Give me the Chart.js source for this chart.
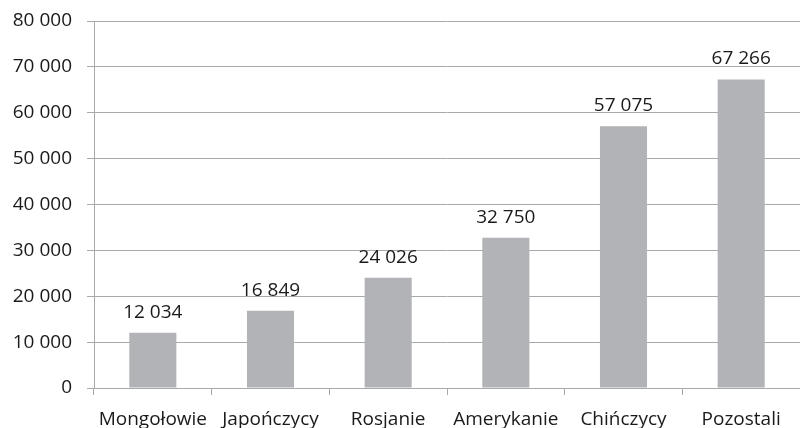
<!DOCTYPE html>
<html>
<head>
<meta charset="utf-8">
<script src="https://cdn.jsdelivr.net/npm/chart.js@4/dist/chart.umd.min.js"></script>
<style>
  html, body { margin: 0; padding: 0; background: #fff; }
  #wrap { width: 800px; height: 428px; }
</style>
</head>
<body>
<div id="wrap"><canvas id="wykres"></canvas></div>
<script>
const kategorie = ['Mongołowie', 'Japończycy', 'Rosjanie', 'Amerykanie', 'Chińczycy', 'Pozostali'];
const wartosci = [12034, 16849, 24026, 32750, 57075, 67266];
const osY = { min: 0, max: 80000, krok: 10000 };

const kolorTekstu = '#1a1a1a';
const kolorSiatki = '#a7a9ac';
const kolorSlupka = '#b1b3b6';
const czcionka = { family: '"Open Sans", sans-serif', size: 19 };

function formatuj(v) {
    return String(v).replace(/\B(?=(\d{3})+(?!\d))/g, ' ');
}

// etykiety z wartościami nad słupkami
const etykietySlupkow = {
    id: 'etykietySlupkow',
    afterDatasetsDraw(chart) {
        const ctx = chart.ctx;
        const meta = chart.getDatasetMeta(0);
        ctx.save();
        ctx.font = `${czcionka.size}px ${czcionka.family}`;
        ctx.fillStyle = kolorTekstu;
        ctx.textAlign = 'center';
        ctx.textBaseline = 'alphabetic';
        meta.data.forEach((bar, i) => {
            ctx.fillText(formatuj(wartosci[i]), bar.x, bar.y - 15);
        });
        ctx.restore();
    }
};

const ctx = document.getElementById('wykres').getContext('2d');
new Chart(ctx, {
    type: 'bar',
    data: {
        labels: kategorie,
        datasets: [{
            data: wartosci,
            backgroundColor: kolorSlupka,
            barPercentage: 0.4,
            categoryPercentage: 1
        }]
    },
    options: {
        responsive: true,
        maintainAspectRatio: false,
        animation: false,
        layout: { padding: { top: 21, right: 0, bottom: 0, left: 0 } },
        plugins: {
            legend: { display: false },
            tooltip: { enabled: false }
        },
        scales: {
            x: {
                grid: {
                    drawOnChartArea: false,
                    drawTicks: true,
                    tickLength: 7,
                    color: kolorSiatki,
                    offset: true
                },
                border: { color: kolorSiatki },
                ticks: { color: kolorTekstu, font: czcionka, padding: 13, maxRotation: 0, autoSkip: false },
                afterFit: s => { s.height = 40; }
            },
            y: {
                min: osY.min,
                max: osY.max,
                grid: { color: kolorSiatki, tickLength: 7 },
                border: { color: kolorSiatki },
                ticks: {
                    stepSize: osY.krok,
                    color: kolorTekstu,
                    font: czcionka,
                    padding: 15,
                    callback: v => formatuj(v)
                },
                // stała szerokość osi i bez dodatkowego odstępu nad/pod etykietami
                afterFit: s => {
                    s.width = 94;
                    s.paddingTop = 0;
                    s.paddingBottom = 0;
                }
            }
        }
    },
    plugins: [etykietySlupkow]
});
</script>
</body>
</html>
